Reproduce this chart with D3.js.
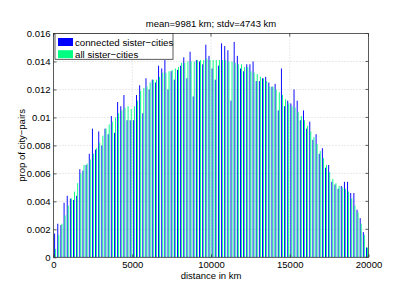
<!DOCTYPE html>
<html>
<head>
<meta charset="utf-8">
<script src="https://cdn.jsdelivr.net/npm/d3@7/dist/d3.min.js"></script>
<style>
  body { margin: 0; background: #fff; }
  text { font-family: "Liberation Sans", Arial, sans-serif; fill: #000; }
</style>
</head>
<body>
<div id="chart"></div>
<script>
// histogram of sister-city distances, 200 km bins
const binWidth = 200;
const connected = [
  0.0017, 0.0024, 0.0023, 0.0039, 0.0044, 0.0042, 0.0041, 0.0044, 0.0063, 0.0062,
  0.0066, 0.0074, 0.0092, 0.0077, 0.0090, 0.0080, 0.0092, 0.0088, 0.0101, 0.0089,
  0.0111, 0.0108, 0.0116, 0.0098, 0.0098, 0.0098, 0.0116, 0.0123, 0.0103, 0.0128,
  0.0120, 0.0127, 0.0125, 0.0137, 0.0135, 0.0141, 0.0120, 0.0133, 0.0127, 0.0134,
  0.0137, 0.0143, 0.0128, 0.0147, 0.0115, 0.0141, 0.0140, 0.0138, 0.0152, 0.0144,
  0.0135, 0.0127, 0.0137, 0.0153, 0.0151, 0.0148, 0.0112, 0.0154, 0.0144, 0.0135,
  0.0133, 0.0138, 0.0138, 0.0140, 0.0126, 0.0126, 0.0128, 0.0129, 0.0125, 0.0122,
  0.0124, 0.0105, 0.0135, 0.0108, 0.0112, 0.0110, 0.0120, 0.0112, 0.0098, 0.0105,
  0.0092, 0.0097, 0.0084, 0.0088, 0.0074, 0.0078, 0.0064, 0.0066, 0.0054, 0.0052,
  0.0049, 0.0051, 0.0054, 0.0054, 0.0046, 0.0046, 0.0034, 0.0028, 0.0018, 0.0007
];
const allPairs = [
  0.0006, 0.0016, 0.0024, 0.0030, 0.0037, 0.0042, 0.0047, 0.0053, 0.0060, 0.0066,
  0.0067, 0.0070, 0.0074, 0.0078, 0.0082, 0.0087, 0.0092, 0.0095, 0.0097, 0.0100,
  0.0103, 0.0105, 0.0107, 0.0108, 0.0106, 0.0108, 0.0112, 0.0119, 0.0121, 0.0122,
  0.0125, 0.0127, 0.0127, 0.0129, 0.0132, 0.0132, 0.0133, 0.0134, 0.0135, 0.0136,
  0.0139, 0.0139, 0.0140, 0.0140, 0.0140, 0.0141, 0.0141, 0.0141, 0.0142, 0.0141,
  0.0141, 0.0141, 0.0141, 0.0141, 0.0141, 0.0140, 0.0140, 0.0139, 0.0138, 0.0138,
  0.0136, 0.0136, 0.0133, 0.0132, 0.0131, 0.0129, 0.0128, 0.0126, 0.0122, 0.0122,
  0.0120, 0.0118, 0.0116, 0.0113, 0.0110, 0.0108, 0.0107, 0.0104, 0.0101, 0.0098,
  0.0094, 0.0090, 0.0086, 0.0081, 0.0076, 0.0071, 0.0066, 0.0061, 0.0056, 0.0053,
  0.0051, 0.0050, 0.0049, 0.0047, 0.0042, 0.0037, 0.0032, 0.0024, 0.0016, 0.0007
];
const xTicks = [0, 5000, 10000, 15000, 20000];
const yTicks = [0, 0.002, 0.004, 0.006, 0.008, 0.01, 0.012, 0.014, 0.016];
const seriesNames = ["connected sister−cities", "all sister−cities"];
const seriesColors = ["#0000ff", "#00ff80"];

const W = 407, H = 288;
const mLeft = 53.5, mRight = 368.5, mTop = 33.5, mBottom = 257.3;

const x = d3.scaleLinear().domain([0, 20000]).range([mLeft, mRight]);
const y = d3.scaleLinear().domain([0, 0.016]).range([mBottom, mTop]);

const svg = d3.select("#chart").append("svg")
  .attr("width", W).attr("height", H);

// 格線
const grid = svg.append("g").attr("stroke", "#b8b8b8").attr("stroke-width", 0.6)
  .attr("stroke-dasharray", "1,2");
grid.selectAll(".gx").data(xTicks.slice(1, -1)).enter().append("line")
  .attr("x1", d => x(d)).attr("x2", d => x(d)).attr("y1", mTop).attr("y2", mBottom);
grid.selectAll(".gy").data(yTicks.slice(1, -1)).enter().append("line")
  .attr("y1", d => y(d)).attr("y2", d => y(d)).attr("x1", mLeft).attr("x2", mRight);

// bars
const barW = 0.95;
const rows = connected.map((v, i) => ({ c: (i + 0.5) * binWidth, a: v, b: allPairs[i] }));
const bars = svg.append("g");
bars.selectAll(".bc").data(rows).enter().append("rect")
  .attr("x", d => x(d.c) - 0.45 - barW / 2)
  .attr("width", barW)
  .attr("y", d => y(d.a))
  .attr("height", d => mBottom - y(d.a))
  .attr("fill", seriesColors[0]);
bars.selectAll(".ba").data(rows).enter().append("rect")
  .attr("x", d => x(d.c) + 0.55 - barW / 2)
  .attr("width", barW)
  .attr("y", d => y(d.b))
  .attr("height", d => mBottom - y(d.b))
  .attr("fill", seriesColors[1]);

// axes box + ticks
svg.append("rect").attr("x", mLeft).attr("y", mTop)
  .attr("width", mRight - mLeft).attr("height", mBottom - mTop)
  .attr("fill", "none").attr("stroke", "#333").attr("stroke-width", 0.8);

const xAxis = d3.axisBottom(x).tickValues(xTicks).tickSize(-3).tickPadding(3.5)
  .tickFormat(d3.format("d"));
const yAxis = d3.axisLeft(y).tickValues(yTicks).tickSize(-3).tickPadding(3)
  .tickFormat(d => d === 0 ? "0" : d3.format("~g")(d));

const gx = svg.append("g").attr("transform", `translate(0,${mBottom})`).call(xAxis);
const gy = svg.append("g").attr("transform", `translate(${mLeft},0)`).call(yAxis);
[gx, gy].forEach(g => {
  g.select(".domain").remove();
  g.selectAll(".tick line").attr("stroke", "#333").attr("stroke-width", 0.8);
  g.selectAll("text").attr("font-size", "9.5px").attr("fill", "#000");
});

// top/right tick marks
svg.append("g").selectAll("line").data(xTicks).enter().append("line")
  .attr("x1", d => x(d)).attr("x2", d => x(d)).attr("y1", mTop).attr("y2", mTop + 3)
  .attr("stroke", "#333").attr("stroke-width", 0.8);
svg.append("g").selectAll("line").data(yTicks).enter().append("line")
  .attr("y1", d => y(d)).attr("y2", d => y(d)).attr("x1", mRight).attr("x2", mRight - 3)
  .attr("stroke", "#333").attr("stroke-width", 0.8);

// title and labels
svg.append("text").attr("x", (mLeft + mRight) / 2).attr("y", 27)
  .attr("text-anchor", "middle").attr("font-size", "9.5px")
  .text("mean=9981 km; stdv=4743 km");
svg.append("text").attr("x", (mLeft + mRight) / 2).attr("y", 279)
  .attr("text-anchor", "middle").attr("font-size", "9.5px")
  .text("distance in km");
svg.append("text")
  .attr("transform", `translate(25,${(mTop + mBottom) / 2}) rotate(-90)`)
  .attr("text-anchor", "middle").attr("font-size", "9.5px")
  .text("prop of city−pairs");

// legend
const lg = svg.append("g").attr("transform", `translate(${mLeft + 1.5},${mTop})`);
lg.append("rect").attr("x", 0).attr("y", 0).attr("width", 118).attr("height", 25.8)
  .attr("fill", "#fff").attr("stroke", "#333").attr("stroke-width", 0.8);
seriesNames.forEach((name, i) => {
  lg.append("rect").attr("x", 3).attr("y", 4.5 + i * 12.2).attr("width", 15).attr("height", 8)
    .attr("fill", seriesColors[i]);
  lg.append("text").attr("x", 20).attr("y", 12 + i * 12.2)
    .attr("font-size", "9.7px").text(name);
});
</script>
</body>
</html>
